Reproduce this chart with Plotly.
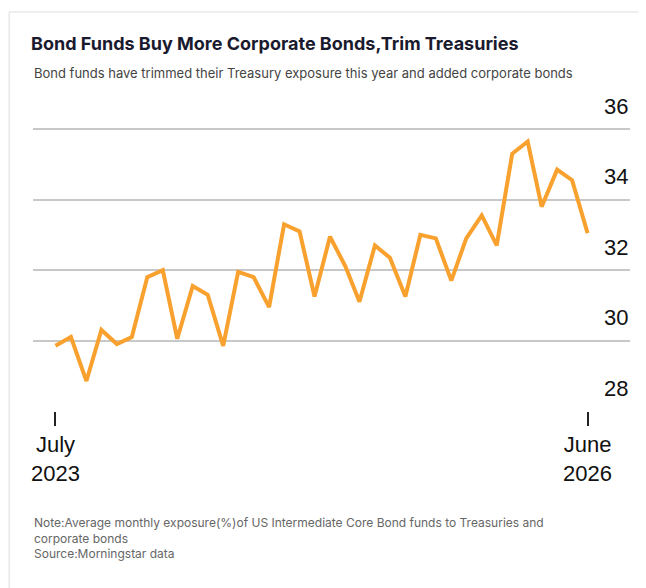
import plotly.graph_objects as go
import pandas as pd

months = pd.date_range("2023-07-01", "2026-06-01", freq="MS")
exposure = [29.85, 30.1, 28.85, 30.3, 29.9, 30.1, 31.8, 32.0, 30.05, 31.55, 31.3,
            29.85, 31.95, 31.8, 30.95, 33.3, 33.1, 31.25, 32.95, 32.1, 31.1, 32.7,
            32.35, 31.25, 33.0, 32.9, 31.7, 32.9, 33.55, 32.7, 35.3, 35.65, 33.8,
            34.85, 34.55, 33.05]
tick_vals = [months[0], months[-1]]
tick_text = ["July<br>2023", "June<br>2026"]
y_ticks = [28, 30, 32, 34, 36]

fig = go.Figure(go.Scatter(x=months, y=exposure, mode="lines",
                           line=dict(color="#f9a12e", width=4), hoverinfo="x+y"))

fig.update_layout(
    width=646, height=588, paper_bgcolor="white", plot_bgcolor="white",
    margin=dict(l=25, r=24, t=100, b=185), showlegend=False,
    font=dict(family="Inter, Roboto, sans-serif"),
    title=dict(text="<b>Bond Funds Buy More Corporate Bonds,Trim Treasuries</b>",
               x=0, xref="container", xanchor="left", y=0.94, yanchor="middle",
               pad=dict(l=23), font=dict(size=18, color="#1a1a2e")),
)
fig.add_annotation(text="Bond funds have trimmed their Treasury exposure this year and added corporate bonds",
                   xref="paper", yref="paper", x=-0.002, y=1.115, xanchor="left", yanchor="middle",
                   showarrow=False, font=dict(size=13, color="#444"))
fig.add_annotation(text="Note:Average monthly exposure(%)of US Intermediate Core Bond funds to Treasuries and<br>corporate bonds<br>Source:Morningstar data",
                   xref="paper", yref="paper", x=-0.002, y=-0.335, xanchor="left", yanchor="top",
                   align="left", showarrow=False, font=dict(size=12, color="#666"))
for v in y_ticks:
    fig.add_annotation(text=str(v), xref="paper", yref="y", x=1, y=v, yshift=23,
                       xanchor="right", yanchor="middle", showarrow=False,
                       font=dict(size=22, color="#111", family="Liberation Sans, Arial"))
fig.update_xaxes(tickvals=tick_vals, ticktext=tick_text, ticks="outside", ticklen=14,
                 tickwidth=2, tickcolor="#222", showgrid=False, showline=False, automargin=False,
                 tickfont=dict(size=22, color="#111", family="Liberation Sans, Arial"),
                 range=[months[0] - pd.Timedelta(days=45), months[-1] + pd.Timedelta(days=85)])
fig.update_yaxes(range=[28, 36.6], tickvals=y_ticks, showticklabels=False, automargin=False,
                 showgrid=True, gridcolor="#c8c8c8", gridwidth=2, zeroline=False)
fig.add_shape(type="rect", xref="paper", yref="paper", x0=-0.04, x1=1.0385, y0=-0.597, y1=1.317,
              line=dict(color="#ddd", width=1))
fig.write_html("out.html")
